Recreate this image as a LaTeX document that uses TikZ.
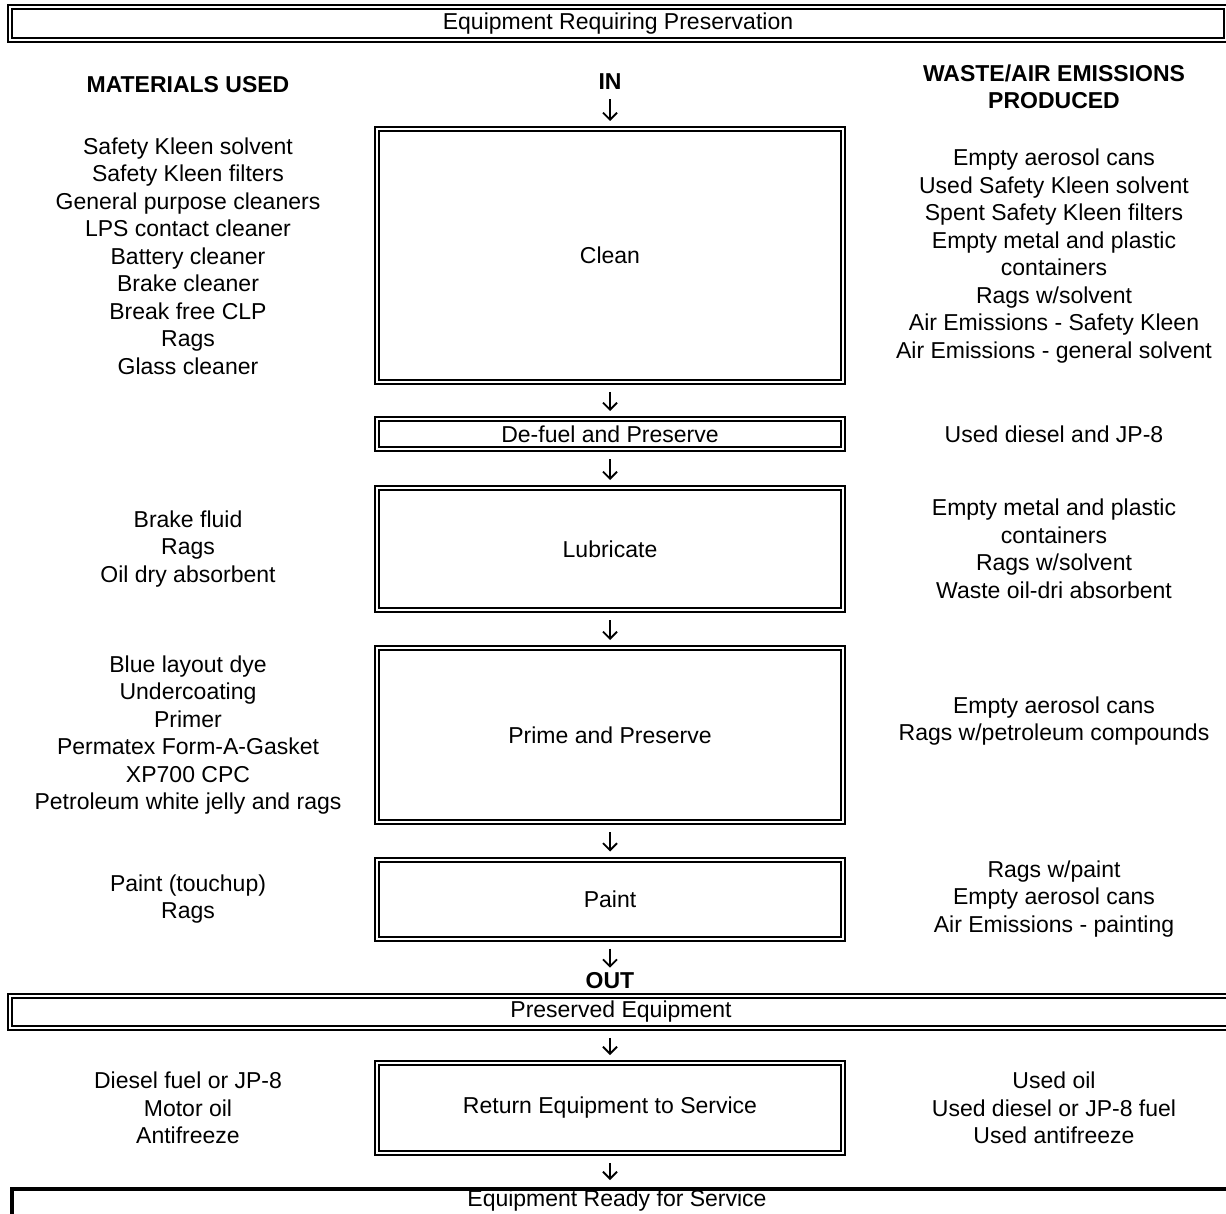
\documentclass[tikz,border=0pt]{standalone}
\usepackage{fontspec}
\setmainfont{Liberation Sans}
\usetikzlibrary{arrows.meta}
\begin{document}
\begin{tikzpicture}[x=1pt,y=-1pt,
  txt/.style={font=\fontsize{23}{27.5}\selectfont, align=center, inner sep=0pt},
  hdr/.style={txt, font=\fontsize{23}{27.5}\selectfont\bfseries},
  proc/.style={txt, draw, double, line width=2pt, double distance=2pt, minimum width=466pt},
  bar/.style={txt, draw, double, line width=2pt, double distance=2pt},
  flow/.style={line width=1.8pt, -{Straight Barb[length=7pt,width=14pt]}, shorten <=9pt, shorten >=7pt}]
\useasboundingbox (0,0) rectangle (1226,1214);

% banner at the top and column headings
\node[bar, minimum width=1216pt, minimum height=33pt] (top) at (618,23.5) {Equipment Requiring Preservation};
\node[hdr] (mat) at (188,85) {MATERIALS USED};
\node[hdr] (in) at (610,82) {IN};
\node[hdr] (waste) at (1054,87) {WASTE/AIR EMISSIONS\\PRODUCED};

% Clean
\node[proc, minimum height=253pt] (clean) at (610,255.5) {Clean};
\node[txt] (cleanin) at (188,256) {Safety Kleen solvent\\Safety Kleen filters\\General purpose cleaners\\LPS contact cleaner\\Battery cleaner\\Brake cleaner\\Break free CLP\\Rags\\Glass cleaner};
\node[txt] (cleanout) at (1054,256) {Empty aerosol cans\\Used Safety Kleen solvent\\Spent Safety Kleen filters\\Empty metal and plastic\\containers\\Rags w/solvent\\Air Emissions - Safety Kleen\\Air Emissions - general solvent};

% De-fuel and Preserve
\node[proc, minimum height=30pt] (defuel) at (610,434) {De-fuel and Preserve};
\node[txt] (defuelout) at (1054,434) {Used diesel and JP-8};

% Lubricate
\node[proc, minimum height=122pt] (lub) at (610,549) {Lubricate};
\node[txt] (lubin) at (188,549) {Brake fluid\\Rags\\Oil dry absorbent};
\node[txt] (lubout) at (1054,549) {Empty metal and plastic\\containers\\Rags w/solvent\\Waste oil-dri absorbent};

% Prime and Preserve
\node[proc, minimum height=174pt] (prime) at (610,735) {Prime and Preserve};
\node[txt] (primein) at (188,735) {Blue layout dye\\Undercoating\\Primer\\Permatex Form-A-Gasket\\XP700 CPC\\Petroleum white jelly and rags};
\node[txt] (primeout) at (1054,721) {Empty aerosol cans\\Rags w/petroleum compounds};

% Paint
\node[proc, minimum height=79pt] (paint) at (610,899) {Paint};
\node[txt] (paintin) at (188,899) {Paint (touchup)\\Rags};
\node[txt] (paintout) at (1054,899) {Rags w/paint\\Empty aerosol cans\\Air Emissions - painting};

\node[hdr] (out) at (610,981) {OUT};

% Preserved Equipment
\node[bar, minimum width=1222pt, minimum height=32pt] (pres) at (621,1012) {Preserved Equipment};

% Return Equipment to Service
\node[proc, minimum height=90pt] (ret) at (610,1108) {Return Equipment to Service};
\node[txt] (retin) at (188,1108) {Diesel fuel or JP-8\\Motor oil\\Antifreeze};
\node[txt] (retout) at (1054,1108) {Used oil\\Used diesel or JP-8 fuel\\Used antifreeze};

% final banner
\node[draw, line width=4pt, minimum width=1228pt, minimum height=51pt, inner sep=0pt] (ready) at (626,1214.5) {};
\node[txt] (readytext) at (617,1201) {Equipment Ready for Service};

% flow arrows
\draw[flow] (in.south) -- (clean.north);
\draw[flow] (clean.south) -- (defuel.north);
\draw[flow] (defuel.south) -- (lub.north);
\draw[flow] (lub.south) -- (prime.north);
\draw[flow] (prime.south) -- (paint.north);
\draw[flow, shorten >=5pt] (paint.south) -- (out.north);
\draw[flow] (pres.south -| ret.north) -- (ret.north);
\draw[flow] (ret.south) -- (ret.south |- ready.north);
\end{tikzpicture}
\end{document}
